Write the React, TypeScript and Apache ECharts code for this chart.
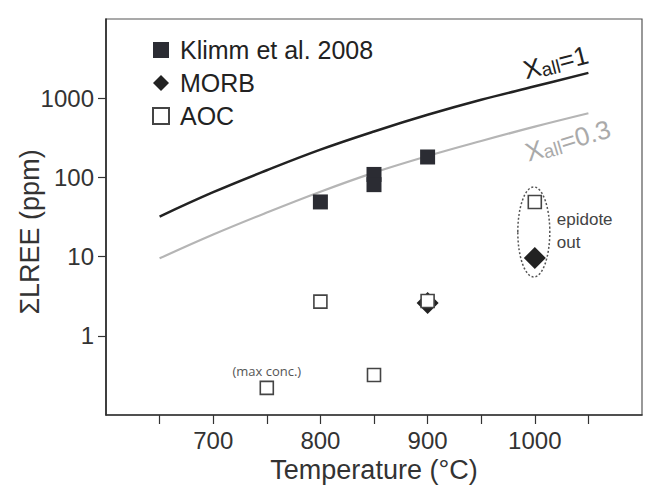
import React, { useEffect, useRef } from 'react';
import * as echarts from 'echarts';

// Model curves: total LREE solubility vs temperature
const curveTemps = [650, 700, 750, 800, 850, 900, 950, 1000, 1050];
const xAll1 = [32, 65, 123, 224, 380, 617, 955, 1413, 2090];
const xAll03 = [9.5, 19, 36, 66, 115, 186, 288, 437, 645];

// Measured / compiled data points
const klimmT = [800, 850, 850, 900];
const klimmLREE = [49, 109, 81, 181];

const morbT = [900, 1000];
const morbLREE = [2.6, 9.6];

const aocT = [750, 800, 850, 900, 1000];
const aocLREE = [0.22, 2.7, 0.32, 2.75, 49];

// Axis ticks and labels
const xTicks = [650, 700, 750, 800, 850, 900, 950, 1000, 1050];
const xLabels = [700, 800, 900, 1000];
const yLabels = [1, 10, 100, 1000];

const seriesNames = ['Klimm et al. 2008', 'MORB', 'AOC'];
const curveNames = ['1', '0.3'];
const yTitle = 'ΣLREE (ppm)';
const xTitle = 'Temperature (°C)';
const maxConcNote = '(max conc.)';
const epidoteNote = 'epidote\nout';

const FONT = '"Liberation Sans", Arial, Helvetica, sans-serif';

const pairs = (xs: number[], ys: number[]) => xs.map((x, i) => [x, ys[i]]);

export default function App() {
  const ref = useRef<HTMLDivElement>(null);

  useEffect(() => {
    if (!ref.current) return;
    const chart = echarts.init(ref.current, undefined, { renderer: 'svg' });

    const option: any = {
      animation: false,
      backgroundColor: '#ffffff',
      textStyle: { fontFamily: FONT },
      grid: {
        left: 106,
        top: 19,
        right: 13,
        bottom: 77,
        show: true,
        borderColor: '#555',
        borderWidth: 1.2,
      },
      legend: {
        orient: 'vertical',
        left: 147,
        top: 32,
        itemWidth: 16,
        itemHeight: 16,
        itemGap: 7,
        data: seriesNames,
        textStyle: {
          fontFamily: FONT,
          fontSize: 25,
          color: '#222',
          lineHeight: 26,
          padding: [0, 0, 0, 6],
        },
        selectedMode: false,
      },
      xAxis: {
        type: 'value',
        min: 600,
        max: 1100,
        interval: 50,
        name: xTitle,
        nameLocation: 'middle',
        nameGap: 41,
        nameTextStyle: { fontFamily: FONT, fontSize: 27, color: '#333' },
        axisLine: { show: true, lineStyle: { color: '#333', width: 1.5 } },
        axisTick: {
          show: true,
          inside: false,
          length: 9,
          customValues: xTicks,
          lineStyle: { color: '#333', width: 1.2 },
        },
        axisLabel: {
          customValues: xLabels,
          fontFamily: FONT,
          fontSize: 24,
          color: '#333',
          margin: 13,
          formatter: (v: number) => String(Math.round(v)),
        },
        splitLine: { show: false },
      },
      yAxis: {
        type: 'log',
        logBase: 10,
        min: 0.1,
        max: 10000,
        axisLine: { show: true, lineStyle: { color: '#222', width: 1.5 } },
        axisTick: {
          show: true,
          inside: false,
          length: 8,
          customValues: yLabels,
          lineStyle: { color: '#333', width: 1.2 },
        },
        axisLabel: {
          customValues: yLabels,
          fontFamily: FONT,
          fontSize: 24,
          color: '#333',
          margin: 12,
          formatter: (v: number) => String(Math.round(v)),
        },
        splitLine: { show: false },
      },
      series: [
        {
          name: 'Xall=1',
          type: 'line',
          data: pairs(curveTemps, xAll1),
          smooth: 0.4,
          showSymbol: false,
          lineStyle: { color: '#222', width: 2.5 },
          z: 1,
        },
        {
          name: 'Xall=0.3',
          type: 'line',
          data: pairs(curveTemps, xAll03),
          smooth: 0.4,
          showSymbol: false,
          lineStyle: { color: '#b5b5b5', width: 2.2 },
          z: 1,
        },
        {
          name: seriesNames[0],
          type: 'scatter',
          symbol: 'rect',
          symbolSize: 15,
          data: pairs(klimmT, klimmLREE),
          itemStyle: { color: '#2b2c33', opacity: 1 },
          z: 3,
        },
        {
          name: seriesNames[1],
          type: 'scatter',
          symbol: 'diamond',
          symbolSize: 22,
          data: pairs(morbT, morbLREE),
          itemStyle: { color: '#222', opacity: 1 },
          z: 3,
        },
        {
          name: seriesNames[2],
          type: 'scatter',
          symbol: 'rect',
          symbolSize: 13,
          data: aocT.map((t, i) =>
            i === 0
              ? {
                  value: [t, aocLREE[i]],
                  label: {
                    show: true,
                    position: 'top',
                    distance: 3,
                    formatter: maxConcNote,
                    fontFamily: '"Open Sans", "Liberation Sans", sans-serif',
                    fontSize: 13,
                    color: '#555',
                  },
                }
              : [t, aocLREE[i]]
          ),
          itemStyle: { color: '#fff', borderColor: '#444', borderWidth: 1.6, opacity: 1 },
          z: 4,
        },
      ],
    };

    chart.setOption(option);

    // Annotations placed from data coordinates
    const p1 = chart.convertToPixel({ gridIndex: 0 }, [curveTemps[7], xAll1[7]]) as number[];
    const p03 = chart.convertToPixel({ gridIndex: 0 }, [curveTemps[7], xAll03[7]]) as number[];
    const ell = chart.convertToPixel({ gridIndex: 0 }, [
      1000,
      Math.sqrt(morbLREE[1] * aocLREE[4]),
    ]) as number[];

    const curveLabel = (sub: string, val: string, color: string, x: number, y: number, rot: number) => ({
      type: 'text',
      x,
      y,
      rotation: rot,
      z: 10,
      style: {
        text: `{x|X}{s|${sub}}{x|=${val}}`,
        align: 'center',
        verticalAlign: 'middle',
        fill: color,
        rich: {
          x: { fontFamily: FONT, fontSize: 26, fill: color },
          s: { fontFamily: FONT, fontSize: 19, fill: color, padding: [9, 0, 0, 0] },
        },
      },
    });

    chart.setOption({
      graphic: [
        {
          type: 'text',
          x: 30,
          y: 232,
          rotation: Math.PI / 2,
          style: {
            text: yTitle,
            fontFamily: FONT,
            fontSize: 27,
            fill: '#333',
            align: 'center',
            verticalAlign: 'middle',
          },
        },
        curveLabel('all', curveNames[0], '#222', p1[0] + 21, p1[1] - 24, 0.25),
        curveLabel('all', curveNames[1], '#aaa', p03[0] + 33, p03[1] + 14, 0.29),
        {
          type: 'ellipse',
          z: 2,
          shape: { cx: ell[0] - 1, cy: ell[1] + 2, rx: 16, ry: 45 },
          style: { fill: 'none', stroke: '#555', lineWidth: 1.5, lineDash: [2, 2] },
        },
        {
          type: 'text',
          x: ell[0] + 22,
          y: ell[1] + 1,
          z: 10,
          style: {
            text: epidoteNote,
            fontFamily: FONT,
            fontSize: 17,
            lineHeight: 23,
            fill: '#444',
            align: 'left',
            verticalAlign: 'middle',
          },
        },
      ],
    });

    return () => chart.dispose();
  }, []);

  return (
    <div
      ref={ref}
      style={{ position: 'fixed', left: 0, top: 0, width: 655, height: 492, background: '#fff' }}
    />
  );
}
